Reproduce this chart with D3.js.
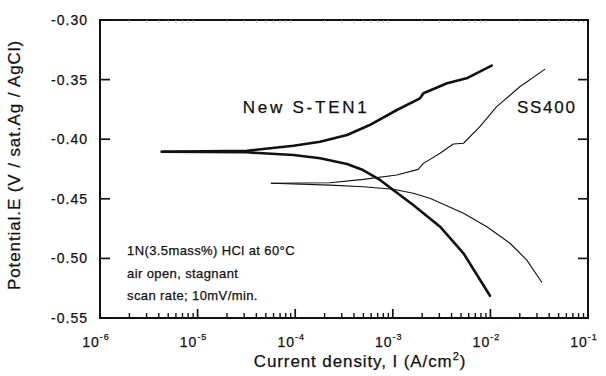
<!DOCTYPE html>
<html>
<head>
<meta charset="utf-8">
<script src="https://cdn.jsdelivr.net/npm/d3@7"></script>
<style>
  body { margin: 0; background: #fff; }
  text { font-family: "Liberation Sans", Arial, sans-serif; fill: #111; stroke: #111; stroke-width: 0.25px; }
  .curve { fill: none; stroke: #111; stroke-linejoin: round; stroke-linecap: round; }
</style>
</head>
<body>
<script>
// current density (A/cm2), potential (V)
const stenAnodicI = [4.3e-6, 3.2e-5, 9.6e-5, 1.8e-4, 3.4e-4, 5.8e-4, 1.1e-3, 1.9e-3, 2.06e-3, 3.6e-3, 5.7e-3, 1.03e-2];
const stenAnodicE = [-0.4105, -0.4097, -0.4055, -0.4021, -0.3965, -0.3881, -0.3755, -0.3657, -0.3615, -0.3531, -0.3489, -0.3383];
const stenCathodicI = [4.3e-6, 3.2e-5, 9.6e-5, 1.8e-4, 3.4e-4, 4.95e-4, 7.4e-4, 1.01e-3, 1.62e-3, 3.05e-3, 5.3e-3, 9.9e-3];
const stenCathodicE = [-0.4105, -0.411, -0.4133, -0.416, -0.4208, -0.4259, -0.4342, -0.4426, -0.4552, -0.4734, -0.4957, -0.5313];
const ssAnodicI = [5.7e-5, 2.28e-4, 4.99e-4, 1.1e-3, 1.82e-3, 2.06e-3, 3.05e-3, 4.17e-3, 5.3e-3, 7.8e-3, 1.16e-2, 2.0e-2, 3.6e-2];
const ssAnodicE = [-0.437, -0.4365, -0.4337, -0.4301, -0.4253, -0.4203, -0.4118, -0.404, -0.4034, -0.3895, -0.3727, -0.356, -0.3414];
const ssCathodicI = [5.7e-5, 2.28e-4, 4.99e-4, 1.01e-3, 1.62e-3, 2.4e-3, 5.3e-3, 9.2e-3, 1.59e-2, 2.36e-2, 3.36e-2];
const ssCathodicE = [-0.437, -0.4385, -0.4399, -0.442, -0.4454, -0.4496, -0.4622, -0.4734, -0.4873, -0.5014, -0.52];

const yTicks = [-0.30, -0.35, -0.40, -0.45, -0.50, -0.55];
const xExps = [-6, -5, -4, -3, -2, -1];
const noteLines = ["1N(3.5mass%) HCl at 60°C", "air open, stagnant", "scan rate; 10mV/min."];

const margin = {top: 20, right: 18, bottom: 58, left: 100};
const W = 606, H = 376;
const width = W - margin.left - margin.right;
const height = H - margin.top - margin.bottom;

const svg = d3.select("body").append("svg")
  .attr("width", W).attr("height", H)
  .append("g")
  .attr("transform", `translate(${margin.left}, ${margin.top})`);

const x = d3.scaleLog().domain([1e-6, 1e-1]).range([0, width]);
const y = d3.scaleLinear().domain([-0.55, -0.30]).range([height, 0]);

// minor log ticks
const minor = [];
for (let e = -6; e < -1; e++) for (let k = 2; k <= 9; k++) minor.push(k * Math.pow(10, e));

// frame first, ticks on top
svg.append("rect").attr("width", width).attr("height", height)
  .attr("fill", "none").attr("stroke", "#111").attr("stroke-width", 2);

// bottom ticks (inward)
const gx = svg.append("g").attr("transform", `translate(0, ${height})`);
gx.selectAll("line.mn").data(minor).join("line").attr("class", "mn")
  .attr("x1", d => x(d)).attr("x2", d => x(d))
  .attr("y1", 0).attr("y2", -5).attr("stroke", "#111").attr("stroke-width", 1.4);
gx.selectAll("line.mj").data(xExps).join("line").attr("class", "mj")
  .attr("x1", d => x(Math.pow(10, d))).attr("x2", d => x(Math.pow(10, d)))
  .attr("y1", 0).attr("y2", -9).attr("stroke", "#111").attr("stroke-width", 1.7);
const xl = gx.selectAll("text").data(xExps).join("text")
  .attr("x", d => x(Math.pow(10, d)) - 4)
  .attr("y", 29)
  .attr("text-anchor", "middle")
  .style("font-size", "14px")
  .style("letter-spacing", "1px");
xl.append("tspan").text("10");
xl.append("tspan").attr("dy", -7).style("font-size", "9px").text(d => d);

// top ticks (faint)
svg.append("g").selectAll("line").data(minor).join("line")
  .attr("x1", d => x(d)).attr("x2", d => x(d))
  .attr("y1", 0).attr("y2", 3).attr("stroke", "#aaa").attr("stroke-width", 0.8);

// left / right ticks (inward)
const gy = svg.append("g");
gy.selectAll("line.l").data(yTicks).join("line").attr("class", "l")
  .attr("x1", 0).attr("x2", 10).attr("y1", d => y(d)).attr("y2", d => y(d))
  .attr("stroke", "#111").attr("stroke-width", 1.7);
gy.selectAll("line.r").data(yTicks).join("line").attr("class", "r")
  .attr("x1", width).attr("x2", width - 10).attr("y1", d => y(d)).attr("y2", d => y(d))
  .attr("stroke", "#111").attr("stroke-width", 1.7);
gy.selectAll("text").data(yTicks).join("text")
  .attr("x", -12).attr("y", d => y(d) + 5)
  .attr("text-anchor", "end")
  .style("font-size", "14px")
  .style("letter-spacing", "1px")
  .text(d => d3.format(".2f")(d).replace("−", "-"));

// curves
const line = d3.line().x(d => x(d[0])).y(d => y(d[1]));
const curves = [
  [stenAnodicI, stenAnodicE, 2.6],
  [stenCathodicI, stenCathodicE, 2.6],
  [ssAnodicI, ssAnodicE, 1.1],
  [ssCathodicI, ssCathodicE, 1.1]
];
curves.forEach(([I, E, w]) => {
  svg.append("path").attr("class", "curve")
    .attr("stroke-width", w)
    .attr("d", line(d3.zip(I, E)));
});

// labels
svg.append("text").attr("x", x(2.9e-5)).attr("y", y(-0.378))
  .style("font-size", "17px").attr("textLength", 124).attr("lengthAdjust", "spacing")
  .text("New S-TEN1");
svg.append("text").attr("x", x(1.87e-2)).attr("y", y(-0.378))
  .style("font-size", "17px").attr("textLength", 58).attr("lengthAdjust", "spacing")
  .text("SS400");

svg.append("g").selectAll("text").data(noteLines).join("text")
  .attr("x", 27).attr("y", (d, i) => 235 + i * 22.5)
  .style("font-size", "13px")
  .style("letter-spacing", "0.4px")
  .text(d => d);

// axis titles
const xt = svg.append("text")
  .attr("x", width / 2 + 16).attr("y", height + 49)
  .attr("text-anchor", "middle")
  .style("font-size", "17px")
  .style("letter-spacing", "0.9px");
xt.append("tspan").text("Current density, I (A/cm");
xt.append("tspan").attr("dy", -7).style("font-size", "11px").text("2");
xt.append("tspan").attr("dy", 7).text(")");

svg.append("text")
  .attr("transform", `translate(-80, ${height / 2 - 4}) rotate(-90)`)
  .attr("text-anchor", "middle")
  .style("font-size", "17px")
  .style("letter-spacing", "0.9px")
  .text("Potential.E (V / sat.Ag / AgCl)");
</script>
</body>
</html>
